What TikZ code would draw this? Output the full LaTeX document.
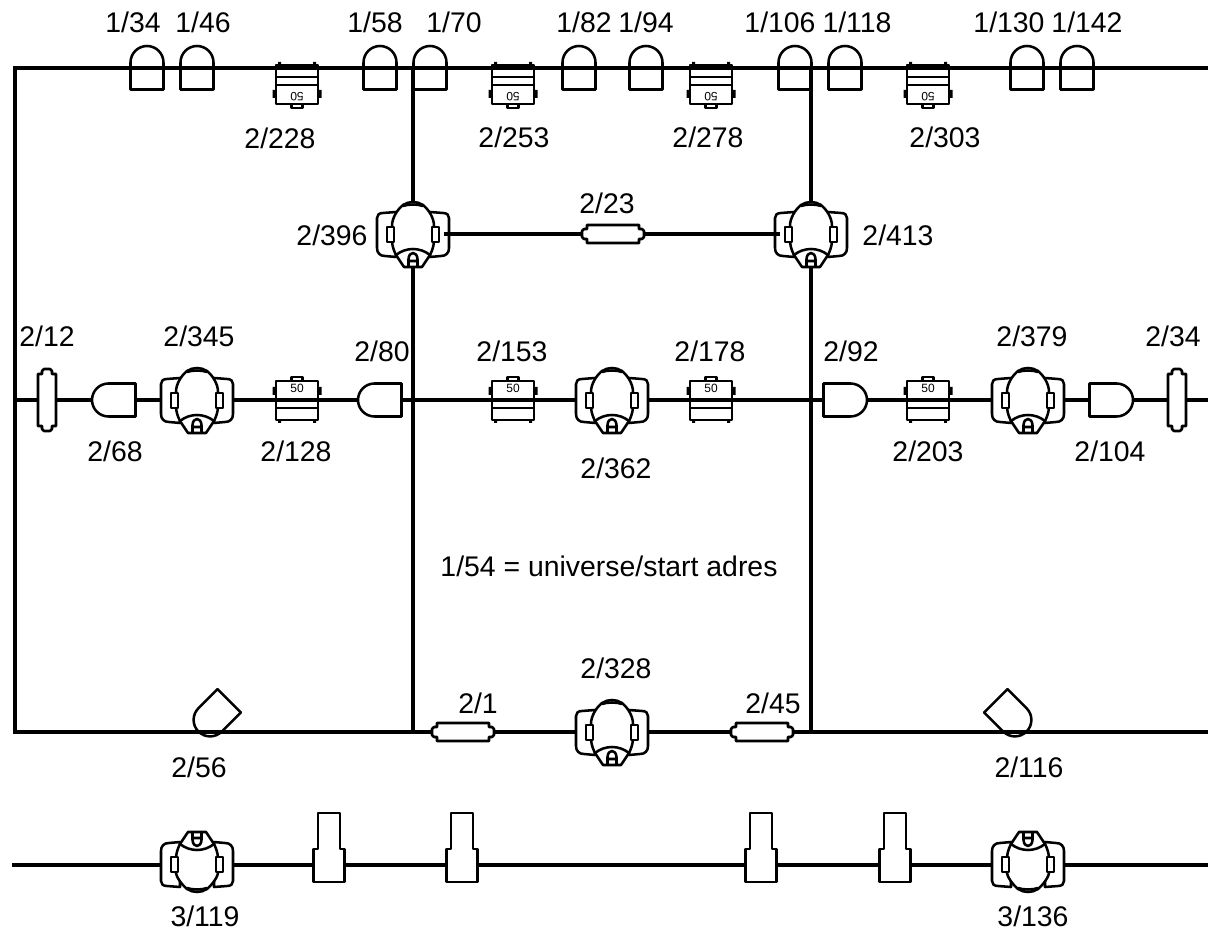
\documentclass[tikz,border=0pt]{standalone}
\usepackage{fontspec}
\setmainfont{Liberation Sans}
\usetikzlibrary{positioning}

\tikzset{
    fix/.style={line width=1.9pt,line join=round},
    dome/.pic={
        \draw[fix,pic actions] (-16.5,21.5) -- (-16.5,-5.5) arc[start angle=180,end angle=360,radius=16.5] -- (16.5,21.5) -- cycle;
    },
    pipe/.pic={
        \draw[fix,fill=white] (-26,-9) -- (26,-9) -- (26,-5) -- (29,-5) -- (31,-3) -- (31,3) -- (29,5) -- (26,5) -- (26,9)
            -- (-26,9) -- (-26,5) -- (-29,5) -- (-31,3) -- (-31,-3) -- (-29,-5) -- (-26,-5) -- cycle;
    },
    can/.pic={
        \draw[fix] (-21,-19) rectangle (21,20);
        \draw[fix] (-21,0) -- (21,0) (-21,8) -- (21,8);
        \draw[fix] (-5.5,-19) -- (-5.5,-23) -- (5.5,-23) -- (5.5,-19);
        \fill (-24.5,-13) rectangle (-21,-5) (21,-13) rectangle (24.5,-5);
        \fill (-19,20) rectangle (-16,23) (16,20) rectangle (19,23);
        \node[transform shape,font=\fontsize{9}{9}\selectfont,inner sep=0pt] (fifty) at (0,-12) {50};
    },
    % #1 = height of the body above the centre
    pics/head/.style={code={
        \draw[fix,fill=white] (-17,-22) -- (-30,-21) .. controls (-34,-21) and (-36,-19) .. (-36,-16) -- (-36,14)
            .. controls (-36,19) and (-33,22) .. (-28,22) -- (-17,23) -- cycle;
        \draw[fix,fill=white] (17,-22) -- (30,-21) .. controls (34,-21) and (36,-19) .. (36,-16) -- (36,14)
            .. controls (36,19) and (33,22) .. (28,22) -- (17,23) -- cycle;
        \draw[fix,fill=white] (-10,-#1+2) .. controls (-16,-#1+7) and (-21,-#1+15) .. (-21,-8) -- (-21,6) .. controls (-21,12) and (-19,17) .. (-17,21)
            -- (-9,33) -- (9,33) -- (17,21) .. controls (19,17) and (21,12) .. (21,6) -- (21,-8) .. controls (21,-#1+15) and (16,-#1+7) .. (10,-#1+2)
            .. controls (4,-#1-2) and (-4,-#1-2) .. (-10,-#1+2) -- cycle;
        \draw[fix] (-10,-#1+3) .. controls (-4,-#1+1) and (4,-#1+1) .. (10,-#1+3);
        \draw[fix] (-17,21) .. controls (-7,13) and (7,13) .. (17,21);
        \draw[fix,fill=white] (-26,-7) rectangle (-19,8) (19,-7) rectangle (26,8);
        \draw[fix] (-4.5,32) -- (-4.5,25) .. controls (-4,17) and (4,17) .. (4.5,25) -- (4.5,32) (-4.5,27) -- (4.5,27);
    }},
    shutter/.pic={
        \draw[fix,fill=white] (-11,-52) -- (11,-52) -- (11,-16) -- (15.5,-16) -- (15.5,17) -- (-15.5,17) -- (-15.5,-16) -- (-11,-16) -- cycle;
    }
}

\begin{document}
\begin{tikzpicture} [x=0.75pt, y=-0.75pt, punt/.style={coordinate},
                    lijn/.style={line width=3.7pt,line cap=rect},
                    lbl/.style={font=\fontsize{21.3}{24}\selectfont,inner sep=0pt}]

\useasboundingbox (0,0) rectangle (1208,930);

% top row
\node[punt] (TL) at (15,68) {};
\node[punt] (D34) at (147,68) {};
\node[punt] (D46) at (197,68) {};
\node[punt] (C228) at (297,85) {};
\node[punt] (D58) at (380,68) {};
\node[punt] (TM1) at (413,68) {};
\node[punt] (D70) at (430,68) {};
\node[punt] (C253) at (513,85) {};
\node[punt] (D82) at (579,68) {};
\node[punt] (D94) at (646,68) {};
\node[punt] (C278) at (711,85) {};
\node[punt] (D106) at (795,68) {};
\node[punt] (TM2) at (811,68) {};
\node[punt] (D118) at (845,68) {};
\node[punt] (C303) at (928,85) {};
\node[punt] (D130) at (1027,68) {};
\node[punt] (D142) at (1077,68) {};
\node[punt] (TR) at (1208,68) {};

% second row
\node[punt] (H396) at (413,234) {};
\node[punt] (H413) at (811,234) {};
\node[punt] (P23) at (613,234) {};
\node[punt] (H396R) at (444,234) {};
\node[punt] (H413L) at (780,234) {};
\node[punt] (P23L) at (582,234) {};
\node[punt] (P23R) at (644,234) {};

% middle row
\node[punt] (ML) at (15,400) {};
\node[punt] (B12) at (47,400) {};
\node[punt] (D68) at (114,400) {};
\node[punt] (H345) at (197,400) {};
\node[punt] (C128) at (297,400) {};
\node[punt] (D80) at (380,400) {};
\node[punt] (MM1) at (413,400) {};
\node[punt] (C153) at (513,400) {};
\node[punt] (H362) at (612,400) {};
\node[punt] (C178) at (711,400) {};
\node[punt] (MM2) at (811,400) {};
\node[punt] (D92) at (845,400) {};
\node[punt] (C203) at (928,400) {};
\node[punt] (H379) at (1028,400) {};
\node[punt] (D104) at (1111,400) {};
\node[punt] (B34) at (1177,400) {};
\node[punt] (MR) at (1208,400) {};

% bottom row
\node[punt] (BL) at (15,732) {};
\node[punt] (D56) at (214,716) {};
\node[punt] (BM1) at (413,732) {};
\node[punt] (P1) at (463,732) {};
\node[punt] (H328) at (612,732) {};
\node[punt] (P45) at (762,732) {};
\node[punt] (BM2) at (811,732) {};
\node[punt] (D116) at (1011,716) {};
\node[punt] (BR) at (1208,732) {};

% truss below
\node[punt] (UL) at (14,865) {};
\node[punt] (H119) at (197,865) {};
\node[punt] (S1) at (329,865) {};
\node[punt] (S2) at (462,865) {};
\node[punt] (S3) at (761,865) {};
\node[punt] (S4) at (895,865) {};
\node[punt] (H136) at (1028,865) {};
\node[punt] (UR) at (1208,865) {};

\path[lijn]
    (TL) edge (D34)
    (D34) edge (D46)
    (D46) edge (D58)
    (D58) edge (TM1)
    (TM1) edge (D70)
    (D70) edge (D82)
    (D82) edge (D94)
    (D94) edge (D106)
    (D106) edge (TM2)
    (TM2) edge (D118)
    (D118) edge (D130)
    (D130) edge (D142)
    (D142) edge (TR)
    (TL) edge (ML)
    (ML) edge (BL)
    (TM1) edge (H396)
    (H396) edge (MM1)
    (MM1) edge (BM1)
    (TM2) edge (H413)
    (H413) edge (MM2)
    (MM2) edge (BM2)
    (ML) edge (B12)
    (B12) edge (D68)
    (D68) edge (H345)
    (H345) edge (C128)
    (C128) edge (D80)
    (D80) edge (MM1)
    (MM1) edge (C153)
    (C153) edge (H362)
    (H362) edge (C178)
    (C178) edge (MM2)
    (MM2) edge (D92)
    (D92) edge (C203)
    (C203) edge (H379)
    (H379) edge (D104)
    (D104) edge (B34)
    (B34) edge (MR)
    (BL) edge (BM1)
    (BM1) edge (P1)
    (P1) edge (H328)
    (H328) edge (P45)
    (P45) edge (BM2)
    (BM2) edge (BR)
    (UL) edge (H119)
    (H119) edge (S1)
    (S1) edge (S2)
    (S2) edge (S3)
    (S3) edge (S4)
    (S4) edge (H136)
    (H136) edge (UR);

\pic at (D34) {dome};
\pic at (D46) {dome};
\pic at (D58) {dome};
\pic at (D70) {dome};
\pic at (D82) {dome};
\pic at (D94) {dome};
\pic at (D106) {dome};
\pic at (D118) {dome};
\pic at (D130) {dome};
\pic at (D142) {dome};
\pic[fill=white,rotate=90] at (D68) {dome};
\pic[fill=white,rotate=90] at (D80) {dome};
\pic[fill=white,rotate=-90] at (D92) {dome};
\pic[fill=white,rotate=-90] at (D104) {dome};
\pic[rotate=135] at (D56) {dome};
\pic[rotate=-135] at (D116) {dome};

\pic[rotate=180] at (C228) {can};
\pic[rotate=180] at (C253) {can};
\pic[rotate=180] at (C278) {can};
\pic[rotate=180] at (C303) {can};
\pic at (C128) {can};
\pic at (C153) {can};
\pic at (C178) {can};
\pic at (C203) {can};

\pic at (H396) {head=31};
\pic at (H413) {head=31};
\pic at (H345) {head=31};
\pic at (H362) {head=31};
\pic at (H379) {head=31};
\pic at (H328) {head=31};
\pic[rotate=180] at (H119) {head=26};
\pic[rotate=180] at (H136) {head=26};

\pic at (P23) {pipe};
\pic at (P1) {pipe};
\pic at (P45) {pipe};
\pic[rotate=90] at (B12) {pipe};
\pic[rotate=90] at (B34) {pipe};

\pic at (S1) {shutter};
\pic at (S2) {shutter};
\pic at (S3) {shutter};
\pic at (S4) {shutter};

\path[lijn,line cap=butt]
    (H396R) edge (P23L)
    (P23R) edge (H413L);

% labels
\node[lbl] (L134) at (133,22) {1/34};
\node[lbl] (L146) at (203,22) {1/46};
\node[lbl] (L158) at (375,22) {1/58};
\node[lbl] (L170) at (454,22) {1/70};
\node[lbl] (L182) at (584,22) {1/82};
\node[lbl] (L194) at (646,22) {1/94};
\node[lbl] (L1106) at (780,22) {1/106};
\node[lbl] (L1118) at (857,22) {1/118};
\node[lbl] (L1130) at (1009,22) {1/130};
\node[lbl] (L1142) at (1087,22) {1/142};
\node[lbl] (L228) at (280,138) {2/228};
\node[lbl] (L253) at (514,137) {2/253};
\node[lbl] (L278) at (708,137) {2/278};
\node[lbl] (L303) at (945,137) {2/303};
\node[lbl] (L23) at (607,203) {2/23};
\node[lbl] (L396) at (332,235) {2/396};
\node[lbl] (L413) at (898,235) {2/413};
\node[lbl] (L12) at (47,336) {2/12};
\node[lbl] (L345) at (199,336) {2/345};
\node[lbl] (L80) at (382,351) {2/80};
\node[lbl] (L153) at (512,351) {2/153};
\node[lbl] (L178) at (710,351) {2/178};
\node[lbl] (L92) at (851,351) {2/92};
\node[lbl] (L379) at (1032,336) {2/379};
\node[lbl] (L34) at (1173,336) {2/34};
\node[lbl] (L68) at (115,451) {2/68};
\node[lbl] (L128) at (296,451) {2/128};
\node[lbl] (L362) at (616,468) {2/362};
\node[lbl] (L203) at (928,451) {2/203};
\node[lbl] (L104) at (1110,451) {2/104};
\node[lbl] (UNI) at (609,566) {1/54 = universe/start adres};
\node[lbl] (L328) at (616,668) {2/328};
\node[lbl] (L1) at (478,703) {2/1};
\node[lbl] (L45) at (773,703) {2/45};
\node[lbl] (L56) at (199,767) {2/56};
\node[lbl] (L116) at (1029,767) {2/116};
\node[lbl] (L119) at (205,916) {3/119};
\node[lbl] (L136) at (1033,916) {3/136};
\end{tikzpicture}
\end{document}
